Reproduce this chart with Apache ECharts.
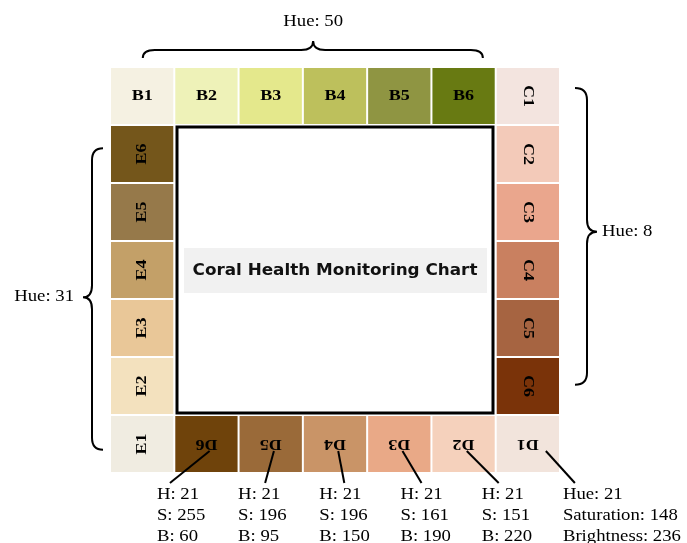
<!DOCTYPE html>
<html>
<head>
<meta charset="utf-8">
<script src="https://cdn.jsdelivr.net/npm/echarts@6/dist/echarts.min.js"></script>
<style>html,body{margin:0;padding:0;background:#fff;}#chart{width:687px;height:543px;}</style>
</head>
<body>
<div id="chart"></div>
<script>
// ---- data ----
const bLabels = ['B1', 'B2', 'B3', 'B4', 'B5', 'B6'];
const bColors = ['#f5f1e2', '#eef2b8', '#e4e88c', '#bdc05c', '#8f9542', '#687a12'];
const cLabels = ['C1', 'C2', 'C3', 'C4', 'C5', 'C6'];
const cColors = ['#f3e4df', '#f3cab9', '#eaa68d', '#c98060', '#a66441', '#7a3309'];
const dLabels = ['D1', 'D2', 'D3', 'D4', 'D5', 'D6'];
const dColors = ['#f2e4dc', '#f5d1bc', '#e9a987', '#c99467', '#9a6a39', '#6f430b'];
const eLabels = ['E1', 'E2', 'E3', 'E4', 'E5', 'E6'];
const eColors = ['#f0ece1', '#f3e1be', '#e9c798', '#c3a068', '#96794a', '#74561b'];
const dHue = [21, 21, 21, 21, 21, 21];
const dSat = [148, 151, 161, 196, 196, 255];
const dBri = [236, 220, 190, 150, 95, 60];
const hueB = 50, hueC = 8, hueE = 31;
const centerTitle = 'Coral Health Monitoring Chart';

// ---- build cells (board layout) ----
const cells = [];
bLabels.forEach((l, i) => cells.push([i, 0, l, bColors[i], 0]));
cLabels.forEach((l, i) => cells.push([6, i, l, cColors[i], -90]));
dLabels.forEach((l, i) => cells.push([6 - i, 6, l, dColors[i], 180]));
eLabels.forEach((l, i) => cells.push([0, 6 - i, l, eColors[i], 90]));

const dNotes = dLabels.map((l, i) => [6 - i, i, dHue[i], dSat[i], dBri[i]]);

const serif = "'Liberation Serif', 'Times New Roman', serif";
const SX = 1.17;

const chart = echarts.init(document.getElementById('chart'));
chart.setOption({
  animation: false,
  grid: { left: 110, top: 67, width: 450, height: 406 },
  xAxis: { type: 'value', min: 0, max: 7, show: false },
  yAxis: { type: 'value', min: 0, max: 7, inverse: true, show: false },
  graphic: [
    { type: 'rect', shape: { x: 177, y: 127, width: 316, height: 286 }, style: { fill: '#fff', stroke: '#000', lineWidth: 3 }, z: 1 },
    { type: 'rect', shape: { x: 184, y: 248, width: 303, height: 45 }, style: { fill: '#f1f1f1' }, z: 2 },
    { type: 'text', x: 335, y: 271, z: 3, scaleX: 1.05, style: { text: centerTitle, align: 'center', verticalAlign: 'middle', font: "bold 16px 'Comic Sans MS', 'DejaVu Sans', sans-serif", fill: '#111' } }
  ],
  series: [
    {
      type: 'custom',
      data: cells,
      z: 5,
      renderItem: function (params, api) {
        const c = api.value(0), r = api.value(1);
        const p0 = api.coord([c, r]), p1 = api.coord([c + 1, r + 1]);
        const item = cells[params.dataIndex];
        return {
          type: 'group',
          children: [
            { type: 'rect', shape: { x: p0[0] + 1, y: p0[1] + 1, width: p1[0] - p0[0] - 2, height: p1[1] - p0[1] - 2 }, style: { fill: item[3] } },
            { type: 'text', x: (p0[0] + p1[0]) / 2, y: (p0[1] + p1[1]) / 2, rotation: item[4] * Math.PI / 180, scaleX: 1.2,
              style: { text: item[2], align: 'center', verticalAlign: 'middle', font: 'bold 15px ' + serif, fill: '#000' } }
          ]
        };
      }
    },
    {
      type: 'custom',
      data: [[0, 'top', hueB], [1, 'right', hueC], [2, 'left', hueE]],
      z: 6,
      renderItem: function (params, api) {
        const side = ['top', 'right', 'left'][params.dataIndex];
        const hue = [hueB, hueC, hueE][params.dataIndex];
        const o = api.coord([0, 0]);
        let path, tx, ty, align;
        if (side === 'top') {
          const x1 = api.coord([0.51, 0])[0], x2 = api.coord([5.8, 0])[0], xc = api.coord([3.16, 0])[0];
          const yb = o[1] - 9, ym = o[1] - 17, yp = o[1] - 26, r = 12;
          path = `M${x1},${yb} Q${x1},${ym} ${x1 + r},${ym} L${xc - r},${ym} Q${xc},${ym} ${xc},${yp} Q${xc},${ym} ${xc + r},${ym} L${x2 - r},${ym} Q${x2},${ym} ${x2},${yb}`;
          tx = xc; ty = o[1] - 45; align = 'center';
        } else if (side === 'right') {
          const x7 = api.coord([7, 0])[0];
          const y1 = api.coord([0, 0.36])[1], y2 = api.coord([0, 5.48])[1], yc = api.coord([0, 2.84])[1];
          const xb = x7 + 15, xm = x7 + 27, xp = x7 + 37, r = 12;
          path = `M${xb},${y1} Q${xm},${y1} ${xm},${y1 + r} L${xm},${yc - r} Q${xm},${yc} ${xp},${yc} Q${xm},${yc} ${xm},${yc + r} L${xm},${y2 - r} Q${xm},${y2} ${xb},${y2}`;
          tx = xp + 5; ty = yc; align = 'left';
        } else {
          const x0 = o[0];
          const y1 = api.coord([0, 1.4])[1], y2 = api.coord([0, 6.6])[1], yc = api.coord([0, 3.97])[1];
          const xb = x0 - 7, xm = x0 - 18, xp = x0 - 27, r = 12;
          path = `M${xb},${y1} Q${xm},${y1} ${xm},${y1 + r} L${xm},${yc - r} Q${xm},${yc} ${xp},${yc} Q${xm},${yc} ${xm},${yc + r} L${xm},${y2 - r} Q${xm},${y2} ${xb},${y2}`;
          tx = xp - 9; ty = yc; align = 'right';
        }
        return {
          type: 'group',
          children: [
            { type: 'path', shape: { pathData: path }, style: { fill: null, stroke: '#000', lineWidth: 2 } },
            { type: 'text', x: tx, y: ty, scaleX: SX, style: { text: 'Hue: ' + hue, align: align, verticalAlign: 'middle', font: '16px ' + serif, fill: '#000' } }
          ]
        };
      }
    },
    {
      type: 'custom',
      data: dNotes,
      z: 7,
      renderItem: function (params, api) {
        const i = params.dataIndex;
        const col = api.value(0);
        const k = 5 - i;
        const start = api.coord([col + 0.5 + (i === 0 ? 0.28 : 0.05), 6.62]);
        const lx = api.coord([0.73 + k * 1.263, 7])[0];
        const endOff = [12, 17, 21, 25, 27, 13][i];
        const ey = api.coord([0, 7])[1] + 10;
        const isD1 = i === 0;
        const lines = isD1
          ? ['Hue: ' + api.value(2), 'Saturation: ' + api.value(3), 'Brightness: ' + api.value(4)]
          : ['H: ' + api.value(2), 'S: ' + api.value(3), 'B: ' + api.value(4)];
        return {
          type: 'group',
          children: [
            { type: 'line', shape: { x1: start[0], y1: start[1], x2: lx + endOff, y2: ey }, style: { stroke: '#000', lineWidth: 2 } },
            { type: 'text', x: lx, y: ey + 1, scaleX: SX, style: { text: lines.join('\n'), align: 'left', verticalAlign: 'top', font: '16px ' + serif, lineHeight: 21, fill: '#000' } }
          ]
        };
      }
    }
  ]
});
</script>
</body>
</html>
